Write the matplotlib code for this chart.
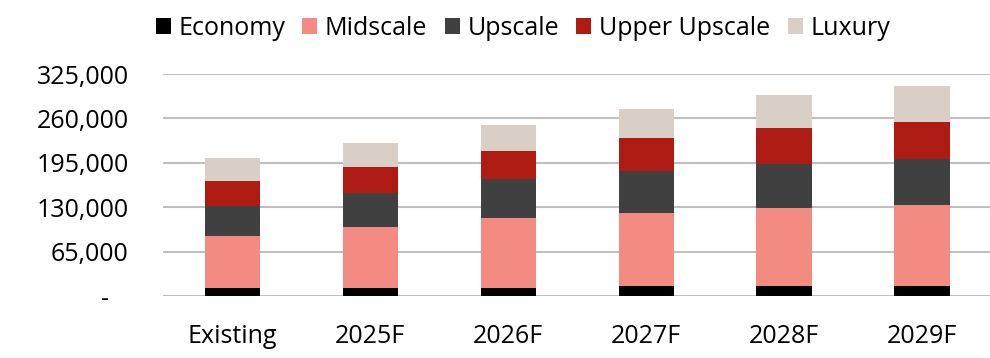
import numpy as np
import matplotlib.pyplot as plt
from matplotlib.ticker import FuncFormatter

plt.rcParams['font.family'] = ['Open Sans', 'DejaVu Sans']

years = ['Existing', '2025F', '2026F', '2027F', '2028F', '2029F']
economy = [12200, 12200, 12200, 14200, 15200, 15200]
midscale = [75400, 88600, 101800, 107200, 113600, 118000]
upscale = [43600, 49400, 57300, 61700, 64600, 67600]
upper_upscale = [36700, 38200, 41100, 48500, 52900, 54300]
luxury = [33800, 35700, 38200, 42600, 47500, 51900]

series = [('Economy', economy, '#000000'),
          ('Midscale', midscale, '#f48b82'),
          ('Upscale', upscale, '#404040'),
          ('Upper Upscale', upper_upscale, '#ae1b12'),
          ('Luxury', luxury, '#d9cfc6')]

fig = plt.figure(figsize=(9.9, 3.58), dpi=100)
ax = fig.add_axes([0.165, 0.173, 0.836, 0.62])

x = np.arange(len(years))
bottom = np.zeros(len(years))
for name, vals, col in series:
    ax.bar(x, vals, 0.4, bottom=bottom, color=col, label=name, zorder=3)
    bottom += np.array(vals)

ax.set_ylim(0, 325000)
ax.set_xlim(-0.5, len(years) - 0.5)
ax.set_yticks(np.arange(0, 325001, 65000))
# accounting style: zero shown as a dash, padded on the right
ax.yaxis.set_major_formatter(FuncFormatter(lambda v, p: '-   ' if v == 0 else f'{int(v):,}'))
ax.set_xticks(x)
ax.set_xticklabels(years)
ax.grid(axis='y', color='#bfbfbf', linewidth=1.5, zorder=0)
for s in ax.spines.values():
    s.set_visible(False)
ax.tick_params(length=0, labelsize=18, colors='black')
ax.tick_params(axis='y', pad=25)
ax.tick_params(axis='x', pad=20)

fig.legend(loc='center', bbox_to_anchor=(0.528, 0.92), ncol=5, frameon=False,
           fontsize=18, handlelength=0.6, handleheight=0.6, handletextpad=0.3,
           columnspacing=0.7)

fig.savefig('out.png', dpi=100)
